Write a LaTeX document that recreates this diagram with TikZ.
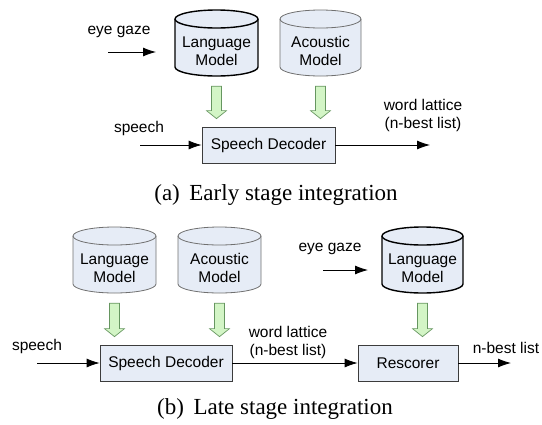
\documentclass[tikz,border=0pt]{standalone}
\usepackage{fontspec}
\setmainfont{Liberation Serif}
\setsansfont{Liberation Sans}
\usetikzlibrary{arrows.meta,calc}
\definecolor{bodyfill}{HTML}{E6ECF6}
\definecolor{greyedge}{HTML}{707070}
\definecolor{boxedge}{HTML}{3C3C3C}
\definecolor{gfill}{HTML}{D3F5C6}
\definecolor{gedge}{HTML}{669660}
\tikzset{
  lbl/.style={font=\sffamily\fontsize{15.5}{18}\selectfont, align=center, inner sep=0pt},
  captext/.style={font=\fontsize{23}{26}\selectfont, inner sep=0pt},
  cylgrey/.style={fill=bodyfill, draw=greyedge, line width=0.8pt},
  cylbold/.style={fill=bodyfill, draw=black, line width=1.4pt},
  procbox/.style={rectangle, fill=bodyfill, draw=boxedge, line width=0.8pt, inner sep=0pt, font=\sffamily\fontsize{15.5}{18}\selectfont},
  flow/.style={draw=black, line width=0.8pt, -{Latex[length=13pt,width=9pt]}},
  garrow/.style={fill=gfill, draw=gedge, line width=0.7pt, line join=miter},
  holder/.style={rectangle, draw=none, inner sep=0pt}
}
% #1 name, #2 x1, #3 y1 top, #4 x2, #5 y2 bottom, #6 style, #7 text
\newcommand\drawcyl[7]{%
  \pgfmathsetmacro\cylcx{(#2+#4)/2}%
  \pgfmathsetmacro\cylrx{(#4-#2)/2}%
  \pgfmathsetmacro\cylcy{-(#3+#5)/2}%
  \pgfmathsetmacro\cylty{-(#3+#5+16)/2}%
  \pgfmathsetmacro\cylw{#4-#2}%
  \pgfmathsetmacro\cylh{#5-#3}%
  \path[#6] (#2,-#3-9) -- (#2,-#5+9) arc[start angle=180,end angle=360,x radius=\cylrx,y radius=9] -- (#4,-#3-9) arc[start angle=0,end angle=180,x radius=\cylrx,y radius=9] -- cycle;
  \draw[#6, fill=none] (#2,-#3-9) arc[start angle=180,end angle=360,x radius=\cylrx,y radius=9];
  \node[holder, minimum width=\cylw pt, minimum height=\cylh pt] (#1) at (\cylcx,\cylcy) {};
  \node[lbl] (#1t) at (\cylcx,\cylty) {#7};
}
\newcommand\greenarrow[2]{%
  \path[garrow] let \p1=(#1.south), \p2=(#2.north) in
   (\x1-5pt,\y1-10pt) -- (\x1+5pt,\y1-10pt) -- (\x1+5pt,\y2+16pt) -- (\x1+10pt,\y2+16pt) -- (\x1,\y2+8pt) -- (\x1-10pt,\y2+16pt) -- (\x1-5pt,\y2+16pt) -- cycle;}
\begin{document}
\begin{tikzpicture}[x=1pt,y=1pt]
\useasboundingbox (0,0) rectangle (542,-424);
% ---------- (a) ----------
\drawcyl{lmA}{175}{10}{258}{76}{cylbold}{Language\\Model}
\drawcyl{amA}{280}{10}{361}{76}{cylgrey}{Acoustic\\Model}
\node[procbox, minimum width=133pt, minimum height=36pt] (sdA) at (268.5,-145) {Speech Decoder};
\greenarrow{lmA}{sdA}
\greenarrow{amA}{sdA}
\node[lbl] (egA) at (119,-32) {eye gaze};
\coordinate (egAs) at (108,-52);
\coordinate (egAe) at (156,-52);
\draw[flow] (egAs) -- (egAe);
\node[lbl] (spA) at (139,-128) {speech};
\coordinate (spAs) at (140,-145);
\draw[flow] (spAs) -- (sdA.west);
\coordinate (outA) at (430,-145);
\draw[flow] (sdA.east) -- (outA);
\node[lbl] (wlA) at (423,-115) {word lattice\\(n-best list)};
\node[captext] (capA) at (276,-195) {(a)\, Early stage integration};
% ---------- (b) ----------
\drawcyl{lmB}{73}{227}{156}{293}{cylgrey}{Language\\Model}
\drawcyl{amB}{178}{227}{261}{293}{cylgrey}{Acoustic\\Model}
\drawcyl{lmC}{382}{227}{463}{293}{cylbold}{Language\\Model}
\node[procbox, minimum width=132pt, minimum height=36pt] (sdB) at (166,-363) {Speech Decoder};
\node[procbox, minimum width=100pt, minimum height=36pt] (rsB) at (408,-363) {Rescorer};
\greenarrow{lmB}{sdB}
\greenarrow{amB}{sdB}
\greenarrow{lmC}{rsB}
\node[lbl] (spB) at (37,-346) {speech};
\coordinate (spBs) at (37,-363);
\draw[flow] (spBs) -- (sdB.west);
\draw[flow] (sdB.east) -- (rsB.west);
\node[lbl] (wlB) at (288,-342) {word lattice\\(n-best list)};
\node[lbl] (egB) at (330,-249) {eye gaze};
\coordinate (egBs) at (323,-270);
\coordinate (egBe) at (368,-270);
\draw[flow] (egBs) -- (egBe);
\coordinate (outB) at (511,-363);
\draw[flow] (rsB.east) -- (outB);
\node[lbl] (nbB) at (506,-348) {n-best list};
\node[captext] (capB) at (275,-409) {(b)\, Late stage integration};
\end{tikzpicture}
\end{document}
